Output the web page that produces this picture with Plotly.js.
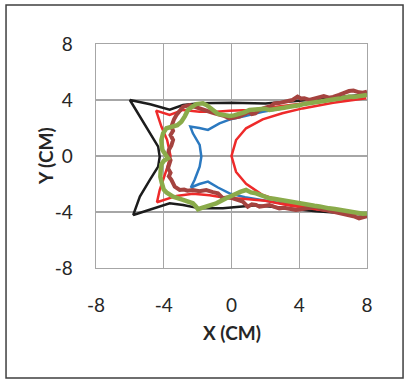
<!DOCTYPE html>
<html>
<head>
<meta charset="utf-8">
<script src="https://cdn.plot.ly/plotly-3.0.1.min.js"></script>
<style>
html,body{margin:0;padding:0;background:#fff;}
#chart{width:408px;height:380px;}
</style>
</head>
<body>
<div id="chart"></div>
<script>
// Axis ticks
const tickVals = [-8, -4, 0, 4, 8];
const tickText = ["-8", "-4", "0", "4", "8"];
const xTitle = "X (CM)";
const yTitle = "Y (CM)";

// Series points [x, y] in cm
const blackPts = [[8,4.4],[6,4.15],[4,3.95],[2,3.75],[0,3.8],[-1.88,3.76],[-2.86,3.64],[-3.65,3.3],[-4.8,3.7],[-6.0,4.0],[-5.7,3.4],[-5.41,2.81],[-4.82,1.62],[-4.33,0.67],[-4.24,-0.05],[-4.33,-0.76],[-4.82,-1.71],[-5.41,-2.9],[-5.8,-4.21],[-4.8,-3.8],[-3.65,-3.38],[-2.86,-3.5],[-1.88,-3.74],[-0.51,-3.74],[0.47,-3.62],[1.45,-3.52],[3,-3.7],[5,-3.95],[8,-4.2]];

const bluePts = [[8,4.35],[6,4.0],[4.2,3.7],[3,3.4],[1.84,3.16],[0.8,2.85],[-0.12,2.6],[-0.71,2.33],[-1.39,1.86],[-1.9,2.0],[-2.43,2.1],[-2.28,1.62],[-1.88,0.79],[-1.78,-0.05],[-1.88,-0.76],[-2.18,-1.71],[-2.4,-2.25],[-1.9,-2.0],[-1.39,-1.83],[-0.8,-2.25],[-0.12,-2.67],[0.8,-2.95],[1.84,-3.14],[3,-3.4],[4.2,-3.65],[6,-3.95],[8,-4.2]];

const parabolaPts = [[7.96,4.12],[6,3.8],[4.2,3.4],[3,3.05],[1.84,2.62],[0.86,1.98],[0.27,1.14],[0,0],[0.27,-1.14],[0.86,-1.98],[1.84,-2.79],[3,-3.25],[4.2,-3.62],[6,-3.9],[7.96,-4.14]];

const redPts = [[8,4.3],[6,4.0],[4,3.7],[2,3.4],[1.06,3.29],[-0.12,3.24],[-0.9,3.16],[-1.88,3.16],[-2.86,3.29],[-3.65,2.93],[-4.45,3.24],[-4.14,2.1],[-3.8,1.14],[-3.6,0],[-3.84,-1.0],[-4.24,-2.43],[-4.4,-3.3],[-3.25,-2.85],[-2.28,-2.7],[-1.29,-2.8],[-0.31,-3.0],[0.67,-3.05],[2,-3.2],[3.5,-3.55],[5.5,-3.9],[8,-4.2]];

const brownPts = [[8.0,4.6],[7.75,4.52],[7.53,4.55],[7.2,4.68],[6.94,4.64],[6.6,4.45],[6.35,4.36],[6.0,4.22],[5.76,4.17],[5.45,4.28],[5.2,4.2],[4.9,4.06],[4.59,4.0],[4.3,4.12],[4.1,4.1],[3.9,4.24],[3.6,4.0],[3.4,3.95],[3.22,3.88],[2.95,3.82],[2.8,3.78],[2.53,3.76],[2.3,3.55],[2.0,3.45],[1.65,3.3],[1.4,3.05],[1.2,3.0],[1.06,3.16],[0.8,3.0],[0.47,2.81],[0.2,2.75],[-0.12,2.69],[-0.4,2.85],[-0.71,2.93],[-1.0,3.05],[-1.29,3.16],[-1.6,3.3],[-1.88,3.4],[-2.2,3.58],[-2.47,3.64],[-2.86,3.52],[-3.1,3.2],[-3.25,2.93],[-3.4,2.6],[-3.55,2.1],[-3.45,1.8],[-3.6,1.5],[-3.45,1.14],[-3.55,0.75],[-3.7,0.43],[-3.75,0.07],[-3.6,-0.3],[-3.65,-0.6],[-3.75,-0.88],[-3.6,-1.2],[-3.7,-1.45],[-3.55,-1.7],[-3.35,-2.19],[-3.06,-2.43],[-2.8,-2.4],[-2.6,-2.48],[-2.28,-2.43],[-1.9,-2.52],[-1.49,-2.43],[-1.1,-2.58],[-0.8,-2.67],[-0.51,-3.02],[-0.2,-2.95],[0.08,-3.02],[0.4,-3.12],[0.67,-3.26],[0.96,-3.62],[1.2,-3.45],[1.45,-3.5],[1.65,-3.62],[2.0,-3.55],[2.24,-3.5],[2.5,-3.62],[2.82,-3.74],[3.1,-3.7],[3.4,-3.78],[3.8,-3.86],[4.1,-3.8],[4.4,-3.75],[4.7,-3.68],[4.98,-3.62],[5.25,-3.78],[5.5,-3.85],[5.85,-3.92],[6.16,-3.98],[6.55,-4.1],[6.94,-4.21],[7.2,-4.3],[7.53,-4.45],[7.8,-4.38],[8.0,-4.29]];

const greenPts = [[8.0,4.36],[7.7,4.3],[7.5,4.32],[7.2,4.22],[6.94,4.24],[6.6,4.12],[6.4,4.1],[6.1,4.05],[5.76,4.0],[5.45,3.92],[5.2,3.9],[4.9,3.82],[4.59,3.76],[4.3,3.72],[4.0,3.62],[3.7,3.6],[3.41,3.52],[3.1,3.45],[2.8,3.4],[2.5,3.38],[2.24,3.29],[1.95,3.38],[1.65,3.36],[1.35,3.3],[1.06,3.29],[0.75,3.12],[0.47,3.0],[0.15,2.9],[-0.12,2.86],[-0.5,2.92],[-0.8,3.0],[-1.0,3.2],[-1.2,3.4],[-1.45,3.62],[-1.69,3.76],[-2.08,3.71],[-2.35,3.5],[-2.57,3.29],[-2.75,2.85],[-2.96,2.45],[-3.2,2.2],[-3.45,2.1],[-3.84,1.98],[-4.04,1.62],[-4.14,1.14],[-4.12,0.8],[-4.08,0.43],[-3.9,0.1],[-3.75,-0.17],[-4.0,-0.35],[-4.14,-0.6],[-4.18,-1.0],[-4.2,-1.48],[-4.1,-2.0],[-4.0,-2.4],[-3.84,-2.6],[-3.45,-2.9],[-2.86,-3.14],[-2.28,-3.38],[-2.1,-3.6],[-1.98,-3.8],[-1.75,-3.7],[-1.49,-3.62],[-0.9,-3.38],[-0.31,-3.02],[0.27,-2.67],[0.55,-2.55],[0.86,-2.43],[1.15,-2.6],[1.45,-2.67],[1.8,-2.85],[2.24,-3.02],[2.5,-3.05],[2.8,-3.12],[3.1,-3.2],[3.41,-3.26],[3.7,-3.35],[4.0,-3.4],[4.3,-3.46],[4.59,-3.5],[4.9,-3.55],[5.2,-3.6],[5.5,-3.7],[5.76,-3.74],[6.1,-3.78],[6.4,-3.85],[6.7,-3.92],[6.94,-3.98],[7.2,-4.0],[7.5,-4.05],[7.75,-4.12],[8.0,-4.1]];

function tr(pts, color, width) {
  return {
    type: 'scatter', mode: 'lines',
    x: pts.map(p => p[0]), y: pts.map(p => p[1]),
    line: {color: color, width: width, shape: 'linear'},
    hoverinfo: 'skip'
  };
}

const data = [
  tr(blackPts, '#1c1c1c', 2.5),
  tr(bluePts, '#2b79c0', 2.5),
  tr(parabolaPts, '#ee2a2a', 2.5),
  tr(redPts, '#ee2a2a', 2.5),
  tr(brownPts, '#a5433f', 4),
  tr(greenPts, '#8aab4a', 4.5)
];

const tickFont = {family: 'Lato, "Open Sans", sans-serif', size: 19, color: '#262626'};
const titleFont = {family: 'Lato, "Open Sans", sans-serif', size: 19, color: '#262626', weight: 'bold'};

const axisCommon = {
  range: [-8, 8], tickmode: 'array', tickvals: tickVals, ticktext: tickText,
  showgrid: true, gridcolor: '#a6a6a6', gridwidth: 1.3,
  zeroline: false, showline: true, mirror: true, linecolor: '#a6a6a6', linewidth: 1.3,
  ticks: '', tickfont: tickFont, fixedrange: true
};

const layout = {
  width: 408, height: 380,
  margin: {l: 96, r: 41, t: 44, b: 112},
  paper_bgcolor: '#ffffff', plot_bgcolor: '#ffffff',
  showlegend: false,
  xaxis: Object.assign({}, axisCommon, {ticklabelstandoff: 20}),
  yaxis: Object.assign({}, axisCommon, {ticklabelstandoff: 18}),
  annotations: [
    {text: '<b>' + xTitle + '</b>', xref: 'paper', yref: 'paper', x: 0.5, y: -0.286,
     xanchor: 'center', yanchor: 'middle', showarrow: false, font: titleFont},
    {text: '<b>' + yTitle + '</b>', xref: 'paper', yref: 'paper', x: -0.188, y: 0.5,
     xanchor: 'center', yanchor: 'middle', showarrow: false, textangle: -90, font: titleFont}
  ],
  shapes: [
    {type: 'rect', xref: 'paper', yref: 'paper', x0: -0.332, x1: 1.133, y0: -0.491, y1: 1.174,
     line: {color: '#3f3f3f', width: 1.5}, fillcolor: 'rgba(0,0,0,0)', layer: 'below'}
  ]
};

Plotly.newPlot('chart', data, layout, {staticPlot: true, displayModeBar: false});
</script>
</body>
</html>
